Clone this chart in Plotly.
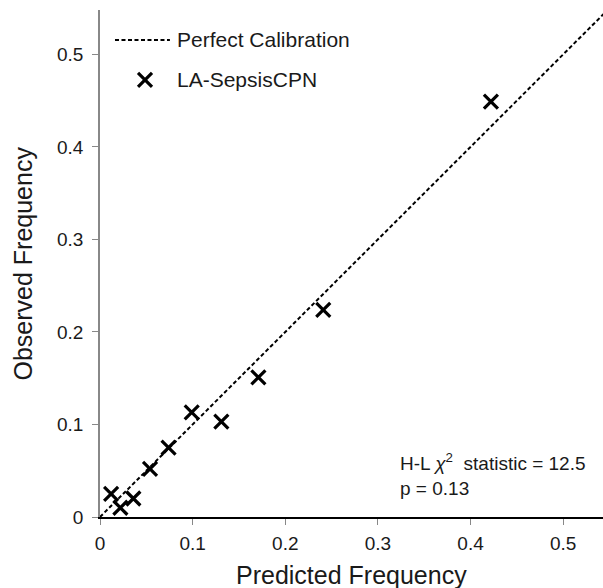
import plotly.graph_objects as go

# Data
predicted = [0.012, 0.022, 0.036, 0.054, 0.074, 0.099, 0.131, 0.171, 0.241, 0.422]
observed = [0.025, 0.010, 0.020, 0.052, 0.075, 0.113, 0.103, 0.151, 0.224, 0.449]
calib_line = [0.0, 0.6]
tick_vals = [0, 0.1, 0.2, 0.3, 0.4, 0.5]
tick_text = ["0", "0.1", "0.2", "0.3", "0.4", "0.5"]
series_name = "LA-SepsisCPN"
line_name = "Perfect Calibration"
stat_text = "H-L <i>χ</i><sup>2</sup>  statistic = 12.5<br>p = 0.13"

FONT = "Liberation Sans, Arial, sans-serif"
TXT = "#1a1a1a"

fig = go.Figure()
fig.add_trace(go.Scatter(
    x=calib_line, y=calib_line, mode="lines",
    line=dict(color="black", width=2, dash="4px,2.5px"),
    showlegend=False, hoverinfo="skip"))
fig.add_trace(go.Scatter(
    x=predicted, y=observed, mode="markers",
    marker=dict(symbol="x-thin", size=14, line=dict(width=3.2, color="black")),
    showlegend=False))
# legend marker on a hidden overlay axis (0..1)
fig.add_trace(go.Scatter(
    x=[0.0895], y=[0.862], mode="markers", xaxis="x2", yaxis="y2",
    marker=dict(symbol="x-thin", size=14, line=dict(width=3.2, color="black")),
    showlegend=False, hoverinfo="skip"))

fig.update_layout(
    width=603, height=588,
    margin=dict(l=100, r=0, t=10, b=71),
    plot_bgcolor="white", paper_bgcolor="white",
    font=dict(family=FONT, color=TXT, size=19),
    xaxis=dict(range=[0, 0.543], tickvals=tick_vals, ticktext=tick_text,
               showgrid=False, zeroline=False, showline=True,
               linecolor="black", linewidth=1.5,
               ticks="outside", ticklen=6, tickcolor="#888", tickwidth=1,
               ticklabelstandoff=2,
               tickfont=dict(size=19, color=TXT)),
    yaxis=dict(range=[0, 0.548], tickvals=tick_vals, ticktext=tick_text,
               showgrid=False, zeroline=False, showline=True,
               linecolor="#888", linewidth=1.5,
               ticks="outside", ticklen=6, tickcolor="#888", tickwidth=1,
               ticklabelstandoff=5,
               tickfont=dict(size=19, color=TXT)),
    xaxis2=dict(overlaying="x", range=[0, 1], visible=False),
    yaxis2=dict(overlaying="y", range=[0, 1], visible=False),
    showlegend=False,
)

fig.add_shape(type="line", xref="paper", yref="paper",
              x0=0.0298, x1=0.139, y0=0.941, y1=0.941,
              line=dict(color="black", width=2, dash="4px,2.5px"))
fig.add_annotation(text=line_name, xref="paper", yref="paper", x=0.149, y=0.941,
                   xanchor="left", yanchor="middle", showarrow=False,
                   font=dict(size=21, color=TXT))
fig.add_annotation(text=series_name, xref="paper", yref="paper", x=0.149, y=0.862,
                   xanchor="left", yanchor="middle", showarrow=False,
                   font=dict(size=21, color=TXT))
fig.add_annotation(text=stat_text, xref="paper", yref="paper", x=0.592, y=0.0838,
                   xanchor="left", yanchor="middle", align="left", showarrow=False,
                   font=dict(size=19, color=TXT))
fig.add_annotation(text="Predicted Frequency", xref="paper", yref="paper",
                   x=0.5, y=-0.114, xanchor="center", yanchor="middle",
                   showarrow=False, font=dict(size=25, color=TXT))
fig.add_annotation(text="Observed Frequency", xref="paper", yref="paper",
                   x=-0.155, y=0.5, xanchor="center", yanchor="middle",
                   textangle=-90, showarrow=False, font=dict(size=25, color=TXT))

fig.write_html("out.html")
